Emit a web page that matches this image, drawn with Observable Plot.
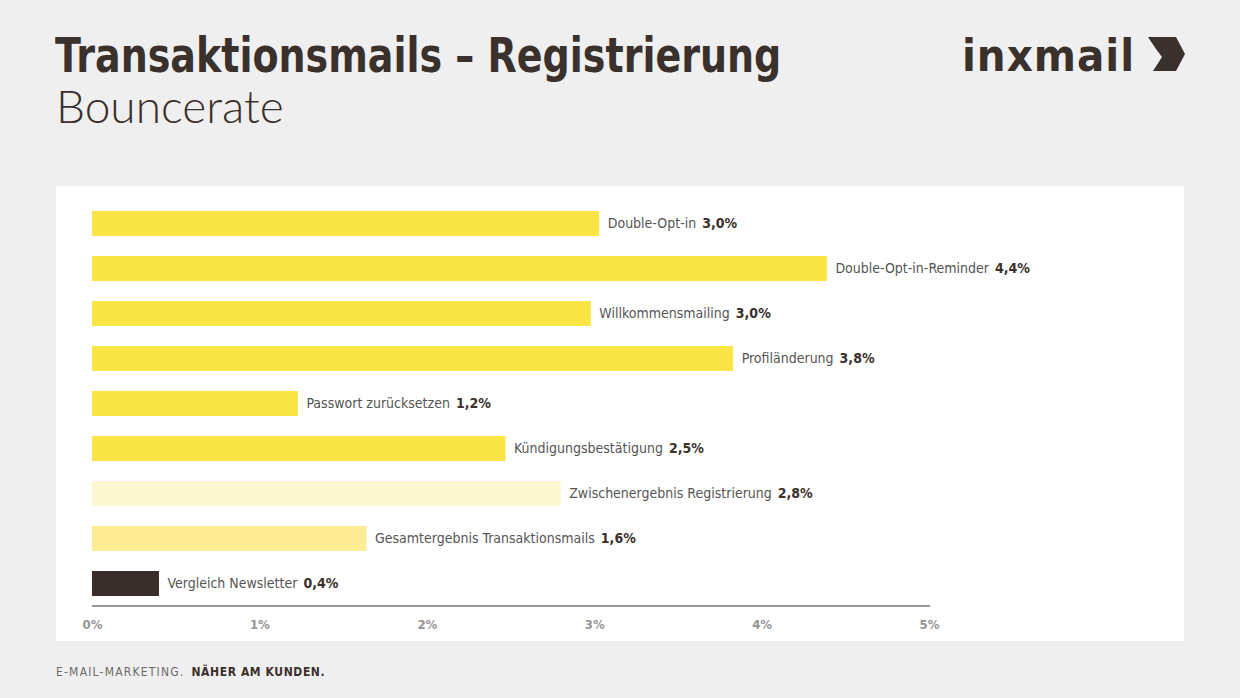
<!DOCTYPE html>
<html>
<head>
<meta charset="utf-8">
<script src="https://cdn.jsdelivr.net/npm/d3@7"></script>
<script src="https://cdn.jsdelivr.net/npm/@observablehq/plot@0.6"></script>
<style>
  html, body { margin: 0; padding: 0; }
  body { width: 1240px; height: 698px; background: #efefef; position: relative; overflow: hidden; font-family: "DejaVu Sans Condensed", "DejaVu Sans", sans-serif; color: #3a302c; }
  #title { position: absolute; left: 55px; top: 31px; font-family: "DejaVu Sans Condensed", sans-serif; font-weight: bold; font-size: 48px; line-height: 48px; height: 48px; white-space: nowrap; color: #3a302c; transform: scaleX(0.88); transform-origin: 0 0; }
  #subtitle { position: absolute; left: 56px; top: 83px; font-family: "Lato", sans-serif; font-weight: 300; font-size: 46px; line-height: 46px; white-space: nowrap; color: #3a302c; }
  #logo { position: absolute; left: 962px; top: 31px; height: 48px; display: flex; align-items: center; }
  #logo span { font-family: "DejaVu Sans Condensed", sans-serif; font-weight: bold; font-size: 45px; letter-spacing: 1px; color: #3a302c; line-height: 1; }
  #mark { position: absolute; left: 1148px; top: 37px; }
  #panel { position: absolute; left: 56px; top: 186px; width: 1128px; height: 455px; background: #ffffff; }
  #footer { position: absolute; left: 56px; top: 665px; font-size: 12px; white-space: nowrap; font-family: "DejaVu Sans Condensed", sans-serif; }
  #footer .a { color: #6a6a6a; letter-spacing: 1.2px; }
  #footer .b { color: #3a302c; font-weight: bold; margin-left: 7px; letter-spacing: 0.6px; }
</style>
</head>
<body>
<div id="title">Transaktionsmails – Registrierung</div>
<div id="subtitle">Bouncerate</div>
<div id="logo"><span>inxmail</span></div>
<svg id="mark" width="37" height="34" viewBox="0 0 37 34"><polygon points="0,0 28,0 37,17 28,34 5,34 14,20 8,12" fill="#3a302c"/></svg>
<div id="panel"></div>
<div id="footer"><span class="a">E-MAIL-MARKETING.</span><span class="b">NÄHER AM KUNDEN.</span></div>
<script>
const categories = [
  "Double-Opt-in",
  "Double-Opt-in-Reminder",
  "Willkommensmailing",
  "Profiländerung",
  "Passwort zurücksetzen",
  "Kündigungsbestätigung",
  "Zwischenergebnis Registrierung",
  "Gesamtergebnis Transaktionsmails",
  "Vergleich Newsletter"
];
const values = [3.03, 4.39, 2.98, 3.83, 1.23, 2.47, 2.80, 1.64, 0.40];
const groups = ["Mailing", "Mailing", "Mailing", "Mailing", "Mailing", "Mailing", "Zwischenergebnis", "Gesamtergebnis", "Newsletter"];
const groupNames = ["Mailing", "Zwischenergebnis", "Gesamtergebnis", "Newsletter"];
const groupColors = ["#fae446", "#fef7d3", "#fcec94", "#3a2e2b"];
const xTicks = [0, 1, 2, 3, 4, 5];

const data = categories.map((c, i) => ({category: c, value: values[i], group: groups[i]}));
const fmt = v => v.toFixed(1).replace(".", ",") + "%";

const chart = Plot.plot({
  width: 1128,
  height: 455,
  marginLeft: 36,
  marginRight: 255,
  marginTop: 15,
  marginBottom: 35.5,
  style: {background: "transparent", fontFamily: "'DejaVu Sans Condensed', sans-serif"},
  x: {domain: [0, 5], ticks: xTicks, label: null},
  y: {domain: categories, paddingInner: 0.45, paddingOuter: 0.2, axis: null},
  color: {domain: groupNames, range: groupColors},
  marks: [
    Plot.barX(data, {x: "value", y: "category", fill: "group"}),
    Plot.frame({anchor: "bottom", stroke: "#3a302c", strokeWidth: 1.2}),
    Plot.axisX({ticks: xTicks, tickSize: 0, tickPadding: 14, label: null, tickFormat: d => d + "%", fill: "#959595", fontSize: 13, fontWeight: "bold"}),
    Plot.text(data, {x: "value", y: "category", text: "category", dx: 8, textAnchor: "start", fill: "#555555", fontSize: 14})
  ]
});
document.getElementById("panel").appendChild(chart);

// append bold value after each category label
d3.select(chart).selectAll('g[aria-label="text"] text').each(function(_, i) {
  d3.select(this).append("tspan")
    .attr("dx", 6)
    .attr("font-weight", "bold")
    .attr("fill", "#3a302c")
    .text(fmt(values[i]));
});
</script>
</body>
</html>
